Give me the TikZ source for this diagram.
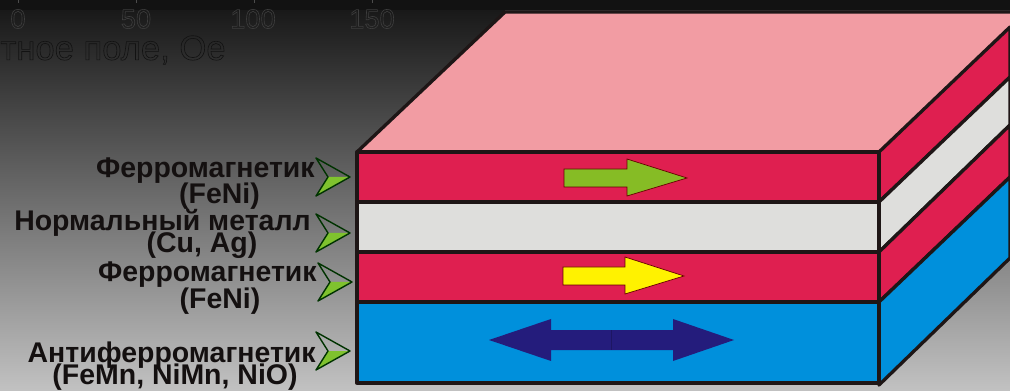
\documentclass[tikz,border=0pt]{standalone}
\usepackage{fontspec}
\setmainfont{Liberation Sans}
\definecolor{layerred}{HTML}{DF1F50}
\definecolor{layergray}{HTML}{DEDEDC}
\definecolor{layerblue}{HTML}{0090DC}
\definecolor{toppink}{HTML}{F29CA3}
\definecolor{pointgreen}{HTML}{7FC22E}
\definecolor{arrowgreen}{HTML}{86BC25}
\definecolor{arrowyellow}{HTML}{FFF200}
\definecolor{arrownavy}{HTML}{241C7C}
\definecolor{edgeblack}{HTML}{1E1616}
\definecolor{labelblack}{HTML}{141010}
\newcommand{\outlinetext}[2]{\special{pdf:code q 1 Tr 0.35 w #1 G}#2\special{pdf:code Q}}
\tikzset{
  layer/.style={draw=edgeblack, line width=1.9pt, line join=round},
  spin/.style={draw=black!60!red, line width=0.4pt},
  lbl/.style={inner sep=0pt, font=\bfseries\fontsize{16.2}{16}\selectfont, text=labelblack},
  faint/.style={inner sep=0pt, font=\fontsize{15.5}{16}\selectfont},
}
\begin{document}
\begin{tikzpicture}[x=0.02cm, y=-0.02cm]
\useasboundingbox (0,0) rectangle (1010,391);
\shade[top color=black!92, bottom color=black!24] (0,0) rectangle (1010,391);
\fill[black!93] (0,0) rectangle (1010,10);
\node[faint, anchor=center] (tick0) at (18,19) {\outlinetext{0.24}{0}};
\node[faint, anchor=center] (tick50) at (136,19) {\outlinetext{0.24}{50}};
\node[faint, anchor=center] (tick100) at (253,19) {\outlinetext{0.24}{100}};
\node[faint, anchor=center] (tick150) at (372,19) {\outlinetext{0.24}{150}};
\node[faint, anchor=east, font=\fontsize{19.7}{20}\selectfont] (field) at (226,50) {\outlinetext{0.07}{тное поле, Ое}};
\foreach \tx in {18,136,254,372}
  \draw[black!70, line width=0.4pt] (\tx,0) -- (\tx,3);
\draw[black!70, line width=0.6pt] (505,10.5) -- (1010,10.5);

\fill[toppink] (357,152) -- (505,12) -- (1010,12) -- (1010,27) -- (879,152) -- cycle;
\draw[layer] (357,152) -- (505,12) -- (1010,12);

\filldraw[layer, fill=layerred] (879,152) -- (1010,27) -- (1010,77) -- (879,202) -- cycle;
\filldraw[layer, fill=layergray] (879,202) -- (1010,77) -- (1010,125) -- (879,252) -- cycle;
\filldraw[layer, fill=layerred] (879,252) -- (1010,125) -- (1010,177) -- (879,302) -- cycle;
\filldraw[layer, fill=layerblue] (879,302) -- (1010,177) -- (1010,258) -- (879,385) -- cycle;

\filldraw[layer, fill=layerred] (357,152) rectangle (879,202);
\filldraw[layer, fill=layergray] (357,202) rectangle (879,252);
\filldraw[layer, fill=layerred] (357,252) rectangle (879,302);
\filldraw[layer, fill=layerblue] (357,302) rectangle (879,383);
\draw[edgeblack, line width=2.8pt] (879,152) -- (879,385);

\filldraw[spin, fill=arrowgreen] (564,169) -- (627,169) -- (627,159) -- (687,178) -- (627,196) -- (627,187) -- (564,187) -- cycle;
\filldraw[spin, fill=arrowyellow] (563,267) -- (625,267) -- (625,257) -- (684,276) -- (625,294) -- (625,285) -- (563,285) -- cycle;
\fill[arrownavy] (489,340) -- (551,319) -- (551,330) -- (673,330) -- (673,319) -- (734,340) -- (673,361) -- (673,350) -- (551,350) -- (551,361) -- cycle;
\draw[arrownavy!80!black, line width=0.4pt] (611,330) -- (611,350);

\foreach \px/\py in {316/158, 316/214, 318/263, 316/332} {
  \fill[pointgreen] (\px+12,\py+19) -- (\px+34,\py+19) -- (\px,\py+38) -- cycle;
  \draw[black!60!green!50!black, line width=0.8pt, line join=round] (\px,\py) -- (\px+34,\py+19) -- (\px,\py+38) -- (\px+12,\py+19) -- cycle;
}

\node[lbl, anchor=east] (ferroa) at (315,171) {Ферромагнетик};
\node[lbl, anchor=center] (ferroanote) at (219.5,196) {(FeNi)};
\node[lbl, anchor=east] (normal) at (311,223) {Нормальный металл};
\node[lbl, anchor=center] (normalnote) at (202,245) {(Cu, Ag)};
\node[lbl, anchor=east] (ferrob) at (317,275) {Ферромагнетик};
\node[lbl, anchor=center] (ferrobnote) at (220,301) {(FeNi)};
\node[lbl, anchor=east] (antiferro) at (316,355) {Антиферромагнетик};
\node[lbl, anchor=center] (antiferronote) at (175,377) {(FeMn, NiMn, NiO)};
\end{tikzpicture}
\end{document}
